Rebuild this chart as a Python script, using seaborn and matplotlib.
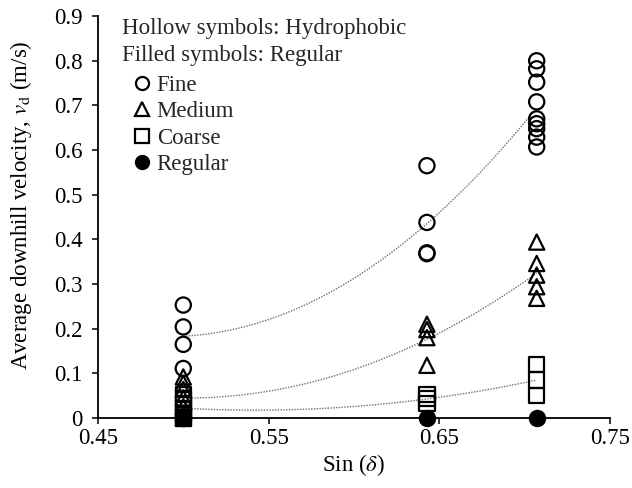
import numpy as np
import pandas as pd
import matplotlib
matplotlib.use("Agg")
import matplotlib.pyplot as plt
import seaborn as sns
from matplotlib.lines import Line2D
from matplotlib.ticker import FuncFormatter

# Slope angles (degrees); the x axis shows sin of the angle
angles_deg = [30, 40, 45]

# Downhill velocities (m/s) for each angle, hydrophobic particles
fine_30 = [0.253, 0.204, 0.165, 0.111]
fine_40 = [0.565, 0.438, 0.370, 0.368]
fine_45 = [0.800, 0.782, 0.752, 0.708, 0.670, 0.659, 0.648, 0.629, 0.607]

medium_30 = [0.092, 0.078, 0.064, 0.045, 0.025, 0.010, 0.000]
medium_40 = [0.210, 0.198, 0.180, 0.118]
medium_45 = [0.394, 0.346, 0.320, 0.294, 0.268]

coarse_30 = [0.052, 0.042, 0.032, 0.020, 0.008, 0.000, 0.000]
coarse_40 = [0.052, 0.043, 0.033]
coarse_45 = [0.119, 0.085, 0.051]

# Regular (untreated) particles did not move
regular_30 = [0.0]
regular_40 = [0.0]
regular_45 = [0.0]

series = {
    "Fine": [fine_30, fine_40, fine_45],
    "Medium": [medium_30, medium_40, medium_45],
    "Coarse": [coarse_30, coarse_40, coarse_45],
    "Regular": [regular_30, regular_40, regular_45],
}
markers = {"Fine": "o", "Medium": "^", "Coarse": "s", "Regular": "o"}
hollow = {"Fine": True, "Medium": True, "Coarse": True, "Regular": False}

sin_delta = np.sin(np.radians(angles_deg))
rows = []
for name, groups in series.items():
    for s, vals in zip(sin_delta, groups):
        for v in vals:
            rows.append({"sin": s, "v": v, "group": name})
df = pd.DataFrame(rows)

sns.set_style("ticks")
plt.rcParams["font.family"] = ["Liberation Serif", "DejaVu Serif"]
plt.rcParams["mathtext.fontset"] = "stix"
FS = 16.5

fig = plt.figure(figsize=(6.32, 4.88), dpi=100)
ax = fig.add_axes([0.155, 0.1434, 0.81, 0.8236])

# quadratic trend lines for the hydrophobic sizes
for name in ["Fine", "Medium", "Coarse"]:
    sub = df[df.group == name]
    sns.regplot(data=sub, x="sin", y="v", order=2, ci=None, scatter=False,
                truncate=True, ax=ax,
                line_kws=dict(color="#6e6e6e", lw=1.0, ls=(0, (1, 1)), zorder=2))

for name in series:
    sub = df[df.group == name]
    sns.scatterplot(data=sub, x="sin", y="v", marker=markers[name], s=120,
                    color="black", edgecolor="black", linewidth=1.6,
                    ax=ax, zorder=3, clip_on=False, legend=False)
    if hollow[name]:
        ax.collections[-1].set_facecolor("none")

ax.set_xlim(0.45, 0.75)
ax.set_ylim(0, 0.9)
ax.set_xticks([0.45, 0.55, 0.65, 0.75])
ax.set_yticks(np.arange(0, 0.91, 0.1))
ax.yaxis.set_major_formatter(FuncFormatter(lambda v, p: f"{v:g}"))
ax.xaxis.set_major_formatter(FuncFormatter(lambda v, p: f"{v:.2f}"))
ax.tick_params(axis="both", labelsize=FS, direction="out", length=4.3,
               width=1.1, color="black", labelcolor="black")
ax.tick_params(axis="x", pad=3)
ax.tick_params(axis="y", pad=6.5)
for side in ["top", "right"]:
    ax.spines[side].set_visible(False)
for side in ["left", "bottom"]:
    ax.spines[side].set_linewidth(1.3)
    ax.spines[side].set_color("black")

ax.set_xlabel(r"Sin ($\delta$)", fontsize=FS, color="black", labelpad=2)
ax.set_ylabel(r"Average downhill velocity, $v_\mathrm{d}$ (m/s)",
              fontsize=FS, color="black")
ax.yaxis.set_label_coords(-0.125, 0.53)

ax.text(0.046, 0.969, "Hollow symbols: Hydrophobic", transform=ax.transAxes,
        fontsize=FS, va="center", ha="left")
ax.text(0.046, 0.903, "Filled symbols: Regular", transform=ax.transAxes,
        fontsize=FS, va="center", ha="left")

handles = []
for name in series:
    handles.append(Line2D([], [], ls="", marker=markers[name], markersize=9.4,
                          markeredgewidth=1.6, markeredgecolor="black",
                          markerfacecolor="none" if hollow[name] else "black",
                          label=name))
ax.legend(handles=handles, loc="upper left", bbox_to_anchor=(0.063, 0.859),
          frameon=False, fontsize=FS, handlelength=0.8, handletextpad=0.26,
          labelspacing=0.23, borderpad=0.1, borderaxespad=0)

fig.savefig("out.png", dpi=100)
